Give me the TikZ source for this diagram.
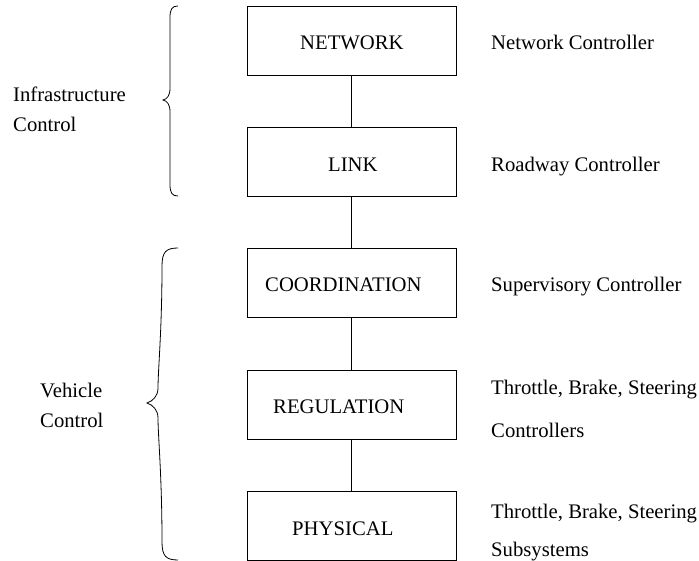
\documentclass[tikz,border=0pt]{standalone}
\usepackage{fontspec}
\setmainfont{Liberation Serif}
\begin{document}
\begin{tikzpicture}[x=1pt,y=-1pt,
  box/.style={draw,line width=0.8pt,minimum width=209pt,minimum height=69pt,inner sep=0pt},
  txt/.style={anchor=base west,inner sep=0pt,font=\fontsize{20.7}{24}\selectfont},
  link/.style={line width=0.8pt},
  brace/.style={line width=0.8pt}]
\useasboundingbox (0,0) rectangle (699,561);
% boxes
\node[box] (net)   at (351.5,40.5)  {};
\node[box] (lnk)   at (351.5,161.5) {};
\node[box] (coord) at (351.5,283)   {};
\node[box] (reg)   at (351.5,404.5) {};
\node[box] (phys)  at (351.5,525.5) {};
% box texts
\node[txt] (tnet)   at (300,50)  {NETWORK};
\node[txt] (tlnk)   at (328,172) {LINK};
\node[txt] (tcoord) at (265,292) {COORDINATION};
\node[txt] (treg)   at (273,413) {REGULATION};
\node[txt] (tphys)  at (292,535) {PHYSICAL};
% connectors
\draw[link] (net.south) -- (lnk.north);
\draw[link] (lnk.south) -- (coord.north);
\draw[link] (coord.south) -- (reg.north);
\draw[link] (reg.south) -- (phys.north);
% right labels
\node[txt] (rnet)   at (491,50)  {Network Controller};
\node[txt] (rlnk)   at (491,172) {Roadway Controller};
\node[txt] (rcoord) at (491,292) {Supervisory Controller};
\node[txt] (rreg1)  at (491,395) {Throttle, Brake, Steering};
\node[txt] (rreg2)  at (491,437) {Controllers};
\node[txt] (rphys1) at (491,518) {Throttle, Brake, Steering};
\node[txt] (rphys2) at (491,556) {Subsystems};
% left labels
\node[txt] (linf1) at (13,102) {Infrastructure};
\node[txt] (linf2) at (13,132) {Control};
\node[txt] (lveh1) at (40,397) {Vehicle};
\node[txt] (lveh2) at (40,427) {Control};
% braces
\draw[brace] (178,6) .. controls (172,6) and (170,9) .. (170,18)
  -- (170,88) .. controls (170,96) and (167,99) .. (163,100)
  .. controls (167,101) and (170,104) .. (170,112)
  -- (170,184) .. controls (170,193) and (172,196) .. (178,196);
\draw[brace] (178,248) .. controls (166,248) and (162,252) .. (162,266)
  .. controls (162,330) and (158,370) .. (158,388)
  .. controls (158,396) and (153,401) .. (147,403)
  .. controls (153,405) and (158,410) .. (158,418)
  .. controls (158,436) and (162,476) .. (162,542)
  .. controls (162,556) and (166,560) .. (178,560);
\end{tikzpicture}
\end{document}
